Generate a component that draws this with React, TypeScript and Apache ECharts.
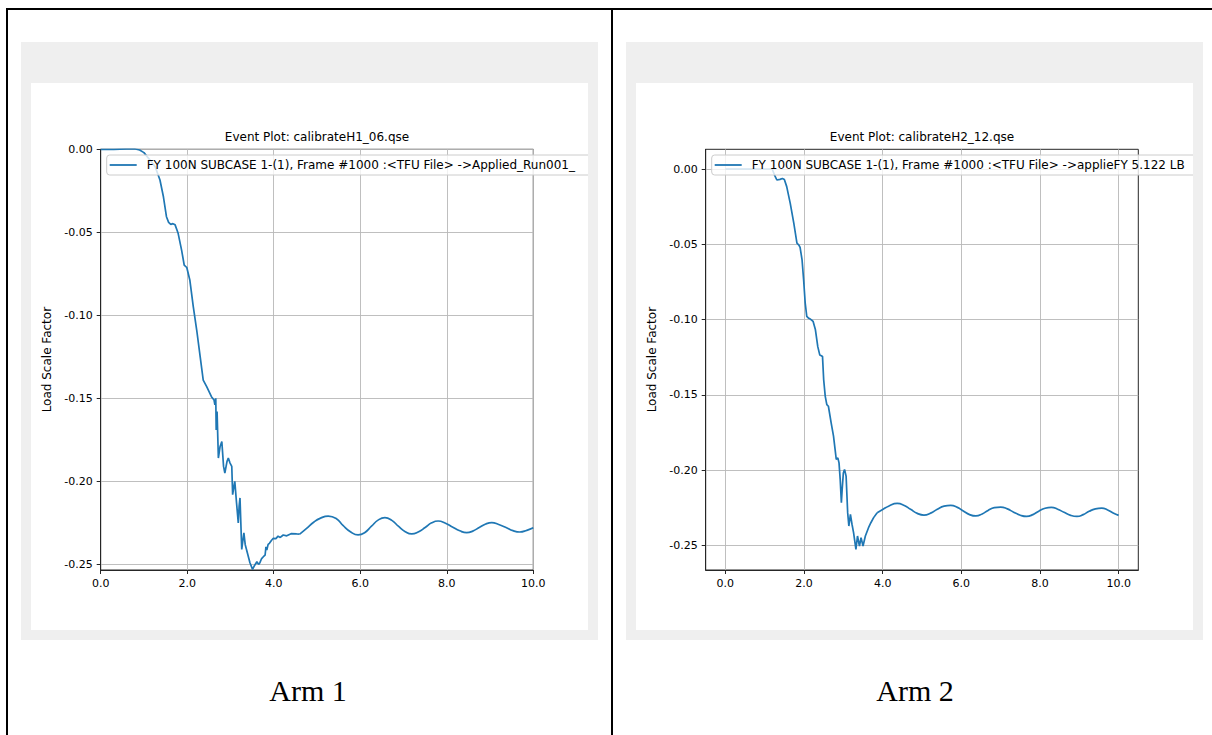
import React, { useEffect, useRef } from 'react';
import * as echarts from 'echarts';

// ---------- data ----------
const arm1Transient: [number, number][] = [
  [0, 0], [0.3, 0], [0.6, 0.0003], [0.8, 0.0002], [0.9, -0.0004], [1.0, -0.002],
  [1.14, -0.0065], [1.26, -0.0105], [1.37, -0.0185], [1.45, -0.0286], [1.52, -0.0406],
  [1.57, -0.044], [1.62, -0.0452], [1.67, -0.0448], [1.72, -0.0455], [1.79, -0.0506],
  [1.87, -0.0607], [1.93, -0.0697], [1.99, -0.0712], [2.06, -0.0787], [2.14, -0.0948],
  [2.22, -0.109], [2.3, -0.125], [2.37, -0.139], [2.45, -0.143], [2.56, -0.149],
  [2.62, -0.151], [2.64, -0.154], [2.66, -0.15], [2.67, -0.169], [2.69, -0.158],
  [2.72, -0.186], [2.76, -0.179], [2.8, -0.176], [2.84, -0.191], [2.87, -0.195],
  [2.92, -0.188], [2.95, -0.186], [2.99, -0.189], [3.03, -0.191], [3.05, -0.208],
  [3.08, -0.203], [3.1, -0.2], [3.14, -0.213], [3.18, -0.225], [3.2, -0.215],
  [3.22, -0.21], [3.26, -0.241], [3.29, -0.235], [3.31, -0.231], [3.34, -0.238],
  [3.37, -0.241], [3.45, -0.249], [3.51, -0.253], [3.56, -0.2505], [3.61, -0.2484],
  [3.65, -0.25], [3.68, -0.249], [3.72, -0.2465], [3.76, -0.2454], [3.8, -0.2445],
  [3.82, -0.2395], [3.84, -0.2414], [3.87, -0.238], [3.9, -0.2373], [3.95, -0.2355],
  [3.99, -0.2343], [4.05, -0.2345], [4.1, -0.233], [4.15, -0.2338], [4.22, -0.2323],
  [4.3, -0.2328], [4.4, -0.2315], [4.53, -0.2317], [4.6, -0.2318],
];
const arm1Settle: [number, number][] = [
  [4.6, -0.2318], [4.76, -0.2283], [4.93, -0.2245], [5.07, -0.2223], [5.26, -0.2209],
  [5.45, -0.2225], [5.6, -0.2265], [5.78, -0.2305], [5.95, -0.2323], [6.1, -0.231],
  [6.26, -0.227], [6.42, -0.2232], [6.57, -0.2219], [6.73, -0.2235], [6.88, -0.227],
  [7.04, -0.2303], [7.19, -0.2317], [7.34, -0.2305], [7.5, -0.2278], [7.65, -0.225],
  [7.8, -0.2239], [7.97, -0.2252], [8.13, -0.2275], [8.3, -0.2298], [8.46, -0.2309],
  [8.6, -0.23], [8.75, -0.2278], [8.9, -0.2257], [9.04, -0.2249], [9.2, -0.226],
  [9.37, -0.2278], [9.53, -0.2297], [9.69, -0.2305], [9.85, -0.2295], [10.0, -0.228],
];
const arm2Transient: [number, number][] = [
  [0, 0], [0.5, 0], [1.0, 0], [1.19, 0], [1.25, -0.004], [1.31, -0.0073], [1.39, -0.0069],
  [1.45, -0.0063], [1.5, -0.007], [1.56, -0.0117], [1.65, -0.0228], [1.74, -0.036],
  [1.82, -0.0493], [1.87, -0.0505], [1.9, -0.052], [1.95, -0.0603], [1.99, -0.0736],
  [2.03, -0.089], [2.07, -0.0979], [2.12, -0.0992], [2.16, -0.0997], [2.2, -0.1005],
  [2.23, -0.1012], [2.29, -0.1068], [2.35, -0.118], [2.4, -0.1235], [2.44, -0.124],
  [2.47, -0.1245], [2.5, -0.14], [2.54, -0.151], [2.58, -0.1565], [2.62, -0.1576],
  [2.69, -0.1686], [2.75, -0.1775], [2.79, -0.1863], [2.82, -0.193], [2.86, -0.1919],
  [2.89, -0.1952], [2.92, -0.2062], [2.95, -0.2217], [2.97, -0.2129], [3.0, -0.202],
  [3.03, -0.1996], [3.07, -0.204], [3.11, -0.2283], [3.14, -0.2372], [3.18, -0.2294],
  [3.22, -0.236], [3.26, -0.2416], [3.32, -0.2527], [3.36, -0.2438], [3.41, -0.2505],
  [3.45, -0.2449], [3.5, -0.2505], [3.56, -0.2438], [3.64, -0.2383], [3.7, -0.235],
  [3.77, -0.2316], [3.86, -0.2283],
];
const arm2Settle: [number, number][] = [
  [3.86, -0.2283], [4.0, -0.2262], [4.15, -0.224], [4.37, -0.2222], [4.55, -0.2235],
  [4.71, -0.2261], [4.88, -0.2288], [5.05, -0.2299], [5.22, -0.2286], [5.39, -0.226],
  [5.56, -0.224], [5.73, -0.2235], [5.9, -0.2248], [6.05, -0.2272], [6.21, -0.2296],
  [6.37, -0.2305], [6.53, -0.2292], [6.68, -0.2268], [6.84, -0.225], [7.0, -0.2246],
  [7.17, -0.2258], [7.33, -0.228], [7.5, -0.23], [7.66, -0.2308], [7.82, -0.2296],
  [7.97, -0.2273], [8.13, -0.2254], [8.29, -0.2248], [8.45, -0.226], [8.61, -0.2281],
  [8.78, -0.2301], [8.94, -0.2308], [9.1, -0.2296], [9.25, -0.2274], [9.41, -0.2258],
  [9.57, -0.2253], [9.72, -0.2265], [9.86, -0.2285], [10.0, -0.2301],
];

const xTicks = [0, 2, 4, 6, 8, 10];
const yTicks = [0, -0.05, -0.1, -0.15, -0.2, -0.25];

const arm1XRange = [0, 10];
const arm1YRange = [-0.2534, 0];
const arm2XRange = [-0.5, 10.5];
const arm2YRange = [-0.2664, 0.0131];

const titles = ['Event Plot: calibrateH1_06.qse', 'Event Plot: calibrateH2_12.qse'];
const legendNames = [
  'FY 100N SUBCASE 1-(1), Frame #1000 :<TFU File> ->Applied_Run001_',
  'FY 100N SUBCASE 1-(1), Frame #1000 :<TFU File> ->applieFY 5.122 LB',
];
const yAxisName = 'Load Scale Factor';
const captions = ['Arm 1', 'Arm 2'];

// ---------- styling ----------
const FONT = 'DejaVu Sans';
const LINE = '#1f77b4';
const SPINE = '#262626';
const GRIDC = '#b8b8b8';

function nearMultiple(v: number, step: number) {
  const r = Math.round(v / step);
  return Math.abs(v - r * step) < step * 1e-3;
}

function buildOption(
  title: string,
  name: string,
  xr: number[],
  yr: number[],
  transient: [number, number][],
  settle: [number, number][]
) {
  const labelStyle = { color: '#000', fontSize: 11, fontFamily: FONT };
  return {
    animation: false,
    grid: {
      left: 69.7, top: 66.3, right: 54.7, bottom: 60,
      show: true, borderColor: SPINE, borderWidth: 1, backgroundColor: 'transparent',
    },
    xAxis: {
      type: 'value', min: xr[0], max: xr[1],
      axisLine: { show: true, onZero: false, lineStyle: { color: SPINE, width: 1 } },
      axisTick: { show: true, length: 4, customValues: xTicks, lineStyle: { color: SPINE } },
      axisLabel: {
        ...labelStyle, margin: 8, customValues: xTicks,
        formatter: (v: number) => (nearMultiple(v, 2) ? v.toFixed(1) : ''),
      },
      splitLine: { show: true, lineStyle: { color: GRIDC, width: 0.9 } },
    },
    yAxis: {
      type: 'value', min: yr[0], max: yr[1],
      name: yAxisName, nameLocation: 'middle', nameGap: 45,
      nameTextStyle: { color: '#000', fontSize: 12, fontFamily: FONT },
      axisLine: { show: true, onZero: false, lineStyle: { color: SPINE, width: 1 } },
      axisTick: { show: true, length: 4, customValues: yTicks, lineStyle: { color: SPINE } },
      axisLabel: {
        ...labelStyle, margin: 8, customValues: yTicks,
        formatter: (v: number) => (nearMultiple(v, 0.05) ? (Math.abs(v) < 1e-9 ? 0 : v).toFixed(2) : ''),
      },
      splitLine: { show: true, lineStyle: { color: GRIDC, width: 0.9 } },
    },
    legend: {
      data: [name],
      left: 75.7, top: 72,
      icon: 'rect', itemWidth: 27, itemHeight: 1.8,
      padding: [4, 24, 4, 3],
      backgroundColor: 'rgba(255,255,255,0.8)',
      borderColor: '#cccccc', borderWidth: 1, borderRadius: 3,
      textStyle: { color: '#000', fontSize: 12, fontFamily: FONT, padding: [0, 0, 0, 5] },
      selectedMode: false,
    },
    graphic: [
      {
        type: 'text', x: 286, y: 54,
        style: {
          text: title, fill: '#000', fontSize: 12, fontFamily: FONT,
          textAlign: 'center', textVerticalAlign: 'middle',
        },
      },
    ],
    series: [
      {
        name, type: 'line', data: transient, showSymbol: false, symbol: 'none',
        smooth: false, lineStyle: { color: LINE, width: 1.7 }, itemStyle: { color: LINE },
        clip: true,
      },
      {
        name, type: 'line', data: settle, showSymbol: false, symbol: 'none',
        smooth: 0.5, lineStyle: { color: LINE, width: 1.7 }, itemStyle: { color: LINE },
        clip: true,
      },
    ],
  };
}

function ChartPanel({ option }: { option: any }) {
  const ref = useRef<HTMLDivElement>(null);
  useEffect(() => {
    if (!ref.current) return;
    const chart = echarts.init(ref.current, undefined, { renderer: 'svg' });
    chart.setOption(option);
    return () => chart.dispose();
  }, [option]);
  return <div ref={ref} style={{ width: 557, height: 547 }} />;
}

const opt1 = buildOption(titles[0], legendNames[0], arm1XRange, arm1YRange, arm1Transient, arm1Settle);
const opt2 = buildOption(titles[1], legendNames[1], arm2XRange, arm2YRange, arm2Transient, arm2Settle);

const abs = (l: number, t: number, w: number, h: number, extra: React.CSSProperties = {}): React.CSSProperties => ({
  position: 'absolute', left: l, top: t, width: w, height: h, ...extra,
});

export default function App() {
  const capStyle: React.CSSProperties = {
    position: 'absolute', top: 675.5, width: 300, textAlign: 'center',
    fontFamily: '"Liberation Serif", "Times New Roman", serif', fontSize: 30, lineHeight: '30px', color: '#000',
  };
  return (
    <div style={{ position: 'fixed', left: 0, top: 0, width: 1212, height: 735, background: '#fff', overflow: 'hidden' }}>
      {/* table borders */}
      <div style={abs(6, 8, 1206, 2, { background: '#000' })} />
      <div style={abs(6, 8, 2, 727, { background: '#000' })} />
      <div style={abs(611, 8, 2, 727, { background: '#000' })} />
      {/* grey frames */}
      <div style={abs(21, 42, 577, 598, { background: '#efefef' })} />
      <div style={abs(626, 42, 577, 598, { background: '#efefef' })} />
      {/* white chart panels */}
      <div style={abs(31, 83, 557, 547, { background: '#fff', overflow: 'hidden' })}>
        <ChartPanel option={opt1} />
      </div>
      <div style={abs(636, 83, 557, 547, { background: '#fff', overflow: 'hidden' })}>
        <ChartPanel option={opt2} />
      </div>
      {/* captions */}
      <div style={{ ...capStyle, left: 308 - 150 }}>{captions[0]}</div>
      <div style={{ ...capStyle, left: 915 - 150 }}>{captions[1]}</div>
    </div>
  );
}
